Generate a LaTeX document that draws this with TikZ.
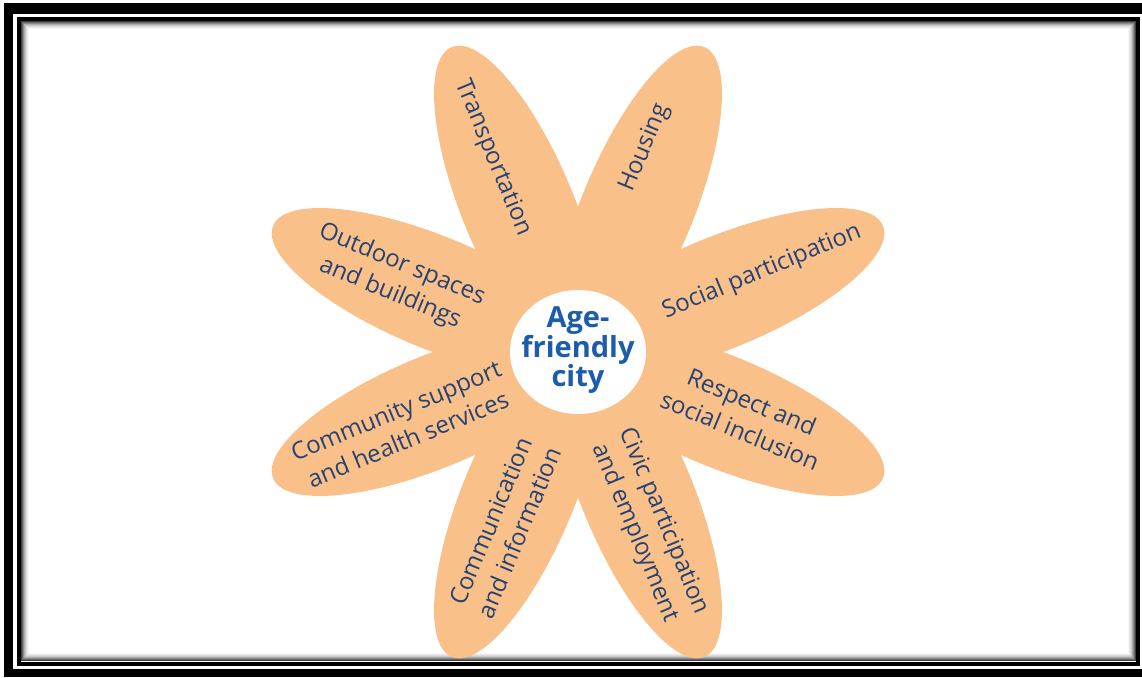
\documentclass[tikz,border=0pt]{standalone}
\usepackage{fontspec}
\setmainfont{Open Sans}
\usetikzlibrary{calc,shapes.geometric}
\definecolor{petal}{RGB}{250,192,138}
\definecolor{labelblue}{RGB}{36,66,114}
\definecolor{centerblue}{RGB}{28,92,170}
\begin{document}
\begin{tikzpicture}[x=1pt,y=-1pt,
  petalfill/.style={fill=petal},
  petaltext/.style={text=labelblue, font=\fontsize{24}{31}\selectfont, align=center, inner sep=0pt},
  centertext/.style={inner sep=0pt, text=centerblue, font=\fontsize{29}{29}\selectfont\bfseries, align=center},
  frameband/.style={fill=black}]
\useasboundingbox (0,0) rectangle (1142,677);
\fill[white] (0,0) rectangle (1142,677);
% outer frame
\fill[frameband] (4,3) rectangle (1142,14);
\fill[frameband] (4,3) rectangle (13,677);
\fill[frameband] (4,669) rectangle (1142,677);
% inner frame shadow
\foreach \i/\g in {0/75,1/60,2/45,3/32,4/22,5/14,6/8,7/4} {
  \draw[line width=1pt, black!\g] (21.5+\i,21.5+\i) rectangle (1135.5-\i,660.5-\i);
}
% inner frame
\draw[line width=4pt] (19,19) rectangle (1138,663.5);
% flower
\coordinate (C) at (578,352);
\foreach \a in {22.5,67.5,112.5,157.5,202.5,247.5,292.5,337.5} {
  \begin{scope}[shift={(C)}, rotate=\a]
    \fill[petalfill] (155pt,0pt) ellipse [x radius=175pt, y radius=56pt];
  \end{scope}
}
\fill[white] (C) ellipse [x radius=68pt, y radius=62pt];
\node[centertext] (center) at ($(C)+(0,-2)$) {Age-\\friendly\\city};
% labels
\node[petaltext, rotate=-67.5] (transport) at (493,158) {Transportation};
\node[petaltext, rotate=67.5] (housing) at (645,148) {Housing};
\node[petaltext, rotate=22.5] (social) at (762,272) {Social participation};
\node[petaltext, rotate=-22.5] (respect) at (746,416) {Respect and\\social inclusion};
\node[petaltext, rotate=-67.5] (civic) at (649,527) {Civic participation\\and employment};
\node[petaltext, rotate=67.5] (comm) at (505,527) {Communication\\and information};
\node[petaltext, rotate=22.5] (community) at (402,425) {Community support\\and health services};
\node[petaltext, rotate=-22.5] (outdoor) at (396,279) {Outdoor spaces\\and buildings};
\end{tikzpicture}
\end{document}
